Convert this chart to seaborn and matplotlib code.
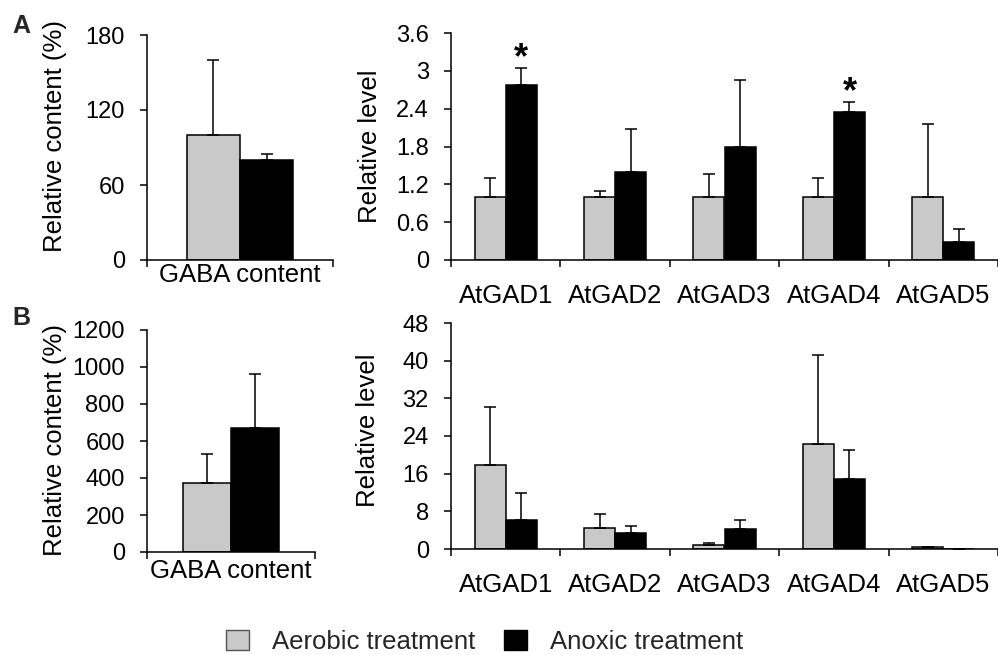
import numpy as np
import pandas as pd
import matplotlib
matplotlib.use("Agg")
import matplotlib.pyplot as plt
from matplotlib.patches import Patch
from matplotlib.container import BarContainer
import seaborn as sns

# ---------------- data ----------------
treatments = ["Aerobic treatment", "Anoxic treatment"]
colors = ["#c9c9c9", "#000000"]

gaba_cat = ["GABA content"]
gabaA_aerobic = [100.0]
gabaA_anoxic = [80.0]
gabaA_aerobic_err = [60.0]
gabaA_anoxic_err = [4.5]

gabaB_aerobic = [375.0]
gabaB_anoxic = [670.0]
gabaB_aerobic_err = [157.0]
gabaB_anoxic_err = [290.0]

genes = ["AtGAD1", "AtGAD2", "AtGAD3", "AtGAD4", "AtGAD5"]
A_aerobic = [1.0, 1.0, 1.0, 1.0, 1.0]
A_anoxic = [2.77, 1.39, 1.79, 2.35, 0.28]
A_aerobic_err = [0.30, 0.10, 0.36, 0.30, 1.15]
A_anoxic_err = [0.27, 0.68, 1.07, 0.15, 0.21]
A_star = [True, False, False, True, False]

B_aerobic = [17.8, 4.5, 0.85, 22.3, 0.4]
B_anoxic = [6.2, 3.4, 4.25, 14.9, 0.05]
B_aerobic_err = [12.4, 3.0, 0.4, 19.0, 0.0]
B_anoxic_err = [5.8, 1.55, 2.0, 6.2, 0.0]

A_left_ticks = [0, 60, 120, 180]
A_right_ticks = [0, 0.6, 1.2, 1.8, 2.4, 3.0, 3.6]
A_right_ticklabels = ["0", "0.6", "1.2", "1.8", "2.4", "3", "3.6"]
B_left_ticks = [0, 200, 400, 600, 800, 1000, 1200]
B_right_ticks = [0, 8, 16, 24, 32, 40, 48]

# ---------------- style ----------------
sns.set_theme(style="ticks")
plt.rcParams["font.family"] = ["Liberation Sans", "DejaVu Sans"]
plt.rcParams["axes.linewidth"] = 1.1

W, H = 998, 655
fig = plt.figure(figsize=(W / 100, H / 100), dpi=100)
fig.patch.set_facecolor("white")


def px_axes(x0, x1, ytop, ybot):
    return fig.add_axes([x0 / W, 1 - ybot / H, (x1 - x0) / W, (ybot - ytop) / H])


def make_df(cats, aer, anox):
    return pd.DataFrame({
        "cat": list(cats) * 2,
        "val": list(aer) + list(anox),
        "trt": [treatments[0]] * len(cats) + [treatments[1]] * len(cats),
    })


def draw(ax, cats, aer, anox, aer_err, anox_err, ylim, yticks, yticklabels,
         ylabel, xmax, label_x, label_y, xpad, stars=None):
    df = make_df(cats, aer, anox)
    sns.barplot(data=df, x="cat", y="val", hue="trt", hue_order=treatments,
                palette=colors, width=0.57, edgecolor="black", linewidth=1.1,
                errorbar=None, legend=False, ax=ax, saturation=1)
    errs = [aer_err, anox_err]
    bar_conts = [c for c in ax.containers if isinstance(c, BarContainer)]
    tops = []
    for ci, cont in enumerate(bar_conts):
        xs, hs = [], []
        for p in cont.patches:
            xs.append(p.get_x() + p.get_width() / 2)
            hs.append(p.get_height())
        e = np.array(errs[ci])
        ax.errorbar(xs, hs, yerr=[np.zeros_like(e), e], fmt="none",
                    ecolor="black", elinewidth=1.1, capsize=4.3, capthick=1.1,
                    zorder=1)
        tops.append((xs, np.array(hs) + e))
    if stars is not None:
        xs, tt = tops[1]
        for i, s in enumerate(stars):
            if s:
                ax.text(xs[i], tt[i] - 0.035 * ylim[1], "*", ha="center",
                        va="bottom", fontsize=26, fontweight="bold",
                        color="black")
    ax.set_ylim(*ylim)
    ax.set_xlim(-0.5, xmax)
    ax.set_yticks(yticks)
    ax.set_yticklabels(yticklabels)
    n = len(cats)
    ax.set_xticks(np.arange(n))
    ax.set_xticklabels(cats)
    ax.set_xticks(np.arange(n + 1) - 0.5, minor=True)
    ax.tick_params(axis="x", which="major", length=0, labelsize=18.5, pad=xpad,
                   colors="black")
    ax.tick_params(axis="x", which="minor", length=5, width=1.1,
                   direction="out", color="black")
    ax.tick_params(axis="y", which="major", length=5, width=1.1,
                   direction="out", labelsize=17, pad=11, colors="black")
    ax.set_xlabel("")
    ax.set_ylabel(ylabel, fontsize=18.5, color="black")
    ax.yaxis.set_label_coords(label_x, label_y)
    for side in ["top", "right"]:
        ax.spines[side].set_visible(False)
    for side in ["left", "bottom"]:
        ax.spines[side].set_color("black")
        ax.spines[side].set_linewidth(1.1)
    ax.set_facecolor("white")


axAL = px_axes(147, 333, 35, 260)
draw(axAL, gaba_cat, gabaA_aerobic, gabaA_anoxic, gabaA_aerobic_err,
     gabaA_anoxic_err, (0, 180), A_left_ticks, [str(t) for t in A_left_ticks],
     "Relative content (%)", 0.5, -0.43, 0.55, 2.5)

axAR = px_axes(451, 998, 33, 260)
draw(axAR, genes, A_aerobic, A_anoxic, A_aerobic_err, A_anoxic_err,
     (0, 3.6), A_right_ticks, A_right_ticklabels, "Relative level", 4.45,
     -0.126, 0.5, 17, stars=A_star)

axBL = px_axes(147, 315, 330, 552)
draw(axBL, gaba_cat, gabaB_aerobic, gabaB_anoxic, gabaB_aerobic_err,
     gabaB_anoxic_err, (0, 1200), B_left_ticks, [str(t) for t in B_left_ticks],
     "Relative content (%)", 0.5, -0.476, 0.505, 5)

axBR = px_axes(451, 998, 323, 549)
draw(axBR, genes, B_aerobic, B_anoxic, B_aerobic_err, B_anoxic_err,
     (0, 48), B_right_ticks, [str(t) for t in B_right_ticks], "Relative level",
     4.4, -0.13, 0.527, 17)

fig.text(12 / W, 1 - 33 / H, "A", fontsize=18, fontweight="bold",
         ha="left", va="baseline")
fig.text(12 / W, 1 - 325 / H, "B", fontsize=18, fontweight="bold",
         ha="left", va="baseline")

handles = [Patch(facecolor=colors[0], edgecolor="#555555", linewidth=1.0),
           Patch(facecolor=colors[1], edgecolor="black", linewidth=1.0)]
fig.legend(handles, treatments, loc="center left",
           bbox_to_anchor=(226 / W, 1 - 642 / H), ncol=2, frameon=False,
           fontsize=18.5, handlelength=0.9, handleheight=0.85,
           handletextpad=0.9, columnspacing=1.1, borderpad=0,
           borderaxespad=0)

fig.savefig("out.png", dpi=100, facecolor="white")
